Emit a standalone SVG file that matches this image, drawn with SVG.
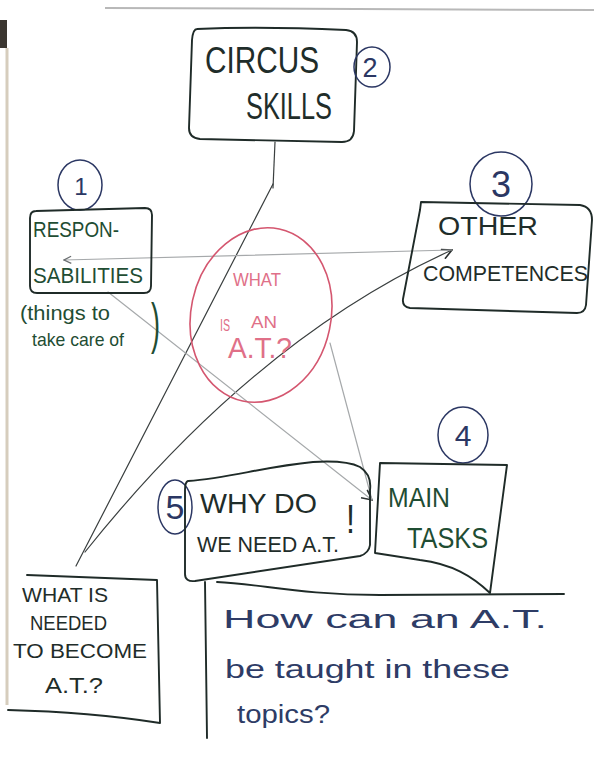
<svg xmlns="http://www.w3.org/2000/svg" width="594" height="762" viewBox="0 0 594 762">
<defs>
<style>
.box{fill:none;stroke:#1f2b28;stroke-width:1.9;stroke-linecap:round;stroke-linejoin:round}
.num{fill:none;stroke:#2b3763;stroke-width:1.5}
.numt{font-family:"Liberation Sans",Arial,sans-serif;fill:#2b3763;text-anchor:middle}
.t{font-family:"Liberation Sans",Arial,sans-serif;fill:#1f2d2a}
.g{fill:#1f4d33}
.b{fill:#2e3c66}
.red{font-family:"Liberation Sans",Arial,sans-serif;fill:#e07088}
.dk{fill:none;stroke:#3a3f3f;stroke-width:1.2;stroke-linecap:round}
.gr{fill:none;stroke:#a6a9ab;stroke-width:1.2;stroke-linecap:round}
</style>
<marker id="ah" viewBox="0 0 12 12" refX="11" refY="6" markerWidth="12" markerHeight="12" markerUnits="userSpaceOnUse" orient="auto">
<path d="M1,1 L11,6 L1,11" fill="none" stroke="#2a2f2f" stroke-width="1.6"/>
</marker>
<marker id="ahg" viewBox="0 0 10 10" refX="9" refY="5" markerWidth="9" markerHeight="9" markerUnits="userSpaceOnUse" orient="auto">
<path d="M1,1 L9,5 L1,9" fill="none" stroke="#6a6e70" stroke-width="1.4"/>
</marker>
</defs>
<rect width="594" height="762" fill="#ffffff"/>
<g id="paper">
<path d="M105,8 L594,10" stroke="#b8b8b8" stroke-width="2" fill="none"/>
<rect x="0" y="20" width="7" height="28" fill="#3b3630"/>
<path d="M7,48 L7,705" stroke="#d6cdbd" stroke-width="3" fill="none"/>
</g>
<g id="connectors">
<path class="dk" d="M275,142 L273,188"/>
<path class="dk" d="M273,184 L76,566"/>
<path class="dk" d="M85,552 Q255,339 452,250" marker-end="url(#ah)"/>
<path class="gr" d="M452,250 L64,260" marker-end="url(#ahg)"/>
<path class="gr" d="M108,292 L372,500" marker-end="url(#ah)"/>
<path class="gr" d="M330,343 L372,500"/>
</g>
<g id="circus">
<path class="box" d="M197,29 Q260,26 346,30 Q357,31 357,42 L354,131 Q353,142 342,142 L200,139 Q189,138 189,128 L192,40 Q193,29 197,29 Z"/>
<text class="t" x="205" y="73" font-size="36" textLength="114" lengthAdjust="spacingAndGlyphs">CIRCUS</text>
<text class="t" x="246" y="119" font-size="36" textLength="86" lengthAdjust="spacingAndGlyphs">SKILLS</text>
<ellipse class="num" cx="372" cy="67" rx="18" ry="20"/>
<text class="numt" x="370" y="77" font-size="27">2</text>
</g>
<g id="responsabilities">
<ellipse class="num" cx="80" cy="185" rx="22" ry="25"/>
<text class="numt" x="81" y="195" font-size="24">1</text>
<path class="box" d="M36,211 L145,208 Q152,208 152,215 L151,286 Q151,293 144,293 L37,293 Q30,293 30,286 L30,218 Q30,211 36,211 Z"/>
<text class="t g" x="33" y="237" font-size="22" textLength="86" lengthAdjust="spacingAndGlyphs">RESPON-</text>
<text class="t g" x="33" y="283" font-size="22" textLength="110" lengthAdjust="spacingAndGlyphs">SABILITIES</text>
<text class="t g" x="20" y="320" font-size="21" textLength="90" lengthAdjust="spacingAndGlyphs">(things to</text>
<text class="t g" x="32" y="346" font-size="19" textLength="92" lengthAdjust="spacingAndGlyphs">take care of</text>
<text class="t g" x="151" y="342" font-size="56" textLength="9" lengthAdjust="spacingAndGlyphs">)</text>
</g>
<g id="what-is-an-at">
<ellipse cx="261" cy="315" rx="70" ry="88" transform="rotate(12 261 315)" fill="none" stroke="#d4566f" stroke-width="1.6"/>
<text class="red" x="233" y="286" font-size="18" textLength="48" lengthAdjust="spacingAndGlyphs">WHAT</text>
<text class="red" x="220" y="331" font-size="16" textLength="10" lengthAdjust="spacingAndGlyphs">IS</text>
<text class="red" x="251" y="328" font-size="17" textLength="26" lengthAdjust="spacingAndGlyphs">AN</text>
<text class="red" x="228" y="358" font-size="30" textLength="64" lengthAdjust="spacingAndGlyphs" fill="#d9607a">A.T.?</text>
</g>
<g id="other-competences">
<ellipse class="num" cx="501" cy="184" rx="31" ry="32"/>
<text class="numt" x="501" y="197" font-size="36">3</text>
<path class="box" d="M421,202 L580,205 Q592,207 592,220 L586,305 Q585,313 577,313 L410,308 Q402,307 403,299 L420,210 Z"/>
<text class="t" x="438" y="235" font-size="26" textLength="100" lengthAdjust="spacingAndGlyphs">OTHER</text>
<text class="t" x="423" y="281" font-size="22" textLength="165" lengthAdjust="spacingAndGlyphs">COMPETENCES</text>
</g>
<g id="main-tasks">
<ellipse class="num" cx="463" cy="435" rx="25" ry="28"/>
<text class="numt" x="463" y="446" font-size="30">4</text>
<path class="box" d="M380,463 L507,465 L490,593 C472,576 452,564 420,560 L375,553 Z"/>
<text class="t g" x="388" y="507" font-size="28" textLength="62" lengthAdjust="spacingAndGlyphs">MAIN</text>
<text class="t g" x="407" y="548" font-size="30" textLength="81" lengthAdjust="spacingAndGlyphs">TASKS</text>
</g>
<g id="why-do-we-need">
<ellipse class="num" cx="175" cy="507" rx="17" ry="27"/>
<text class="numt" x="175" y="519" font-size="34">5</text>
<path class="box" d="M188,481 C230,478 262,467 313,462 Q346,460 360,467 Q372,475 370,490 L370,545 Q369,553 360,556 L195,581 Q185,582 185,574 L185,490 Q185,482 188,481 Z"/>
<text class="t" x="200" y="513" font-size="28" textLength="117" lengthAdjust="spacingAndGlyphs" fill="#1f2a40">WHY DO</text>
<text class="t" x="197" y="552" font-size="22" textLength="142" lengthAdjust="spacingAndGlyphs" fill="#1f2a40">WE NEED A.T.</text>
<text class="t" x="346" y="533" font-size="40" textLength="9" lengthAdjust="spacingAndGlyphs" fill="#1f2a40">!</text>
</g>
<g id="what-is-needed">
<path class="box" d="M27,575 L157,580 L160,723 Q90,712 8,710"/>
<text class="t" x="22" y="602" font-size="20" textLength="86" lengthAdjust="spacingAndGlyphs" fill="#1f2a38">WHAT IS</text>
<text class="t" x="30" y="630" font-size="20" textLength="77" lengthAdjust="spacingAndGlyphs" fill="#1f2a38">NEEDED</text>
<text class="t" x="13" y="658" font-size="20" textLength="134" lengthAdjust="spacingAndGlyphs" fill="#1f2a38">TO BECOME</text>
<text class="t" x="45" y="693" font-size="22" textLength="58" lengthAdjust="spacingAndGlyphs" fill="#1f2a38">A.T.?</text>
</g>
<g id="how-can">
<path class="box" d="M205,582 L207,738"/>
<path class="box" d="M217,582 C262,584 300,595 380,595 L564,594"/>
<text class="t b" x="223" y="628" font-size="26" textLength="324" lengthAdjust="spacingAndGlyphs">How   can   an  A.T.</text>
<text class="t b" x="225" y="678" font-size="26" textLength="285" lengthAdjust="spacingAndGlyphs">be taught  in  these</text>
<text class="t b" x="237" y="723" font-size="26" textLength="93" lengthAdjust="spacingAndGlyphs">topics?</text>
</g>
</svg>
